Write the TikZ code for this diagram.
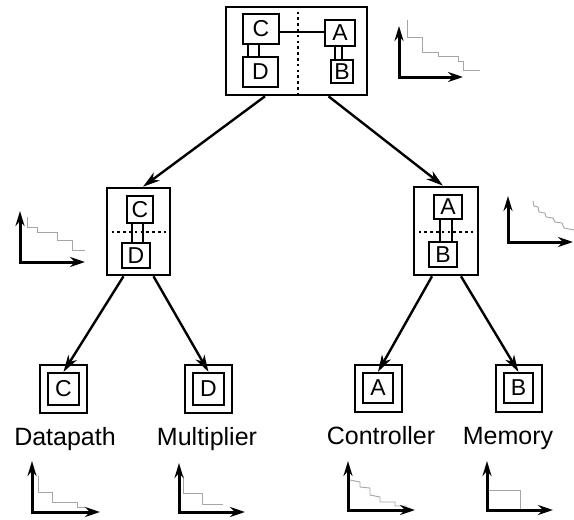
\documentclass[tikz,border=0pt]{standalone}
\usepackage{fontspec}
\setmainfont{Liberation Sans}
\usetikzlibrary{arrows.meta,calc}
\begin{document}
\begin{tikzpicture}[x=1pt,y=-1pt,
  box/.style={draw, line width=2.6pt, inner sep=0pt},
  part/.style={draw, line width=2.2pt, inner sep=0pt, font=\fontsize{23}{23}\selectfont},
  link/.style={line width=1.8pt},
  sep/.style={line width=2.6pt, dash pattern=on 2.6pt off 3.2pt},
  arr/.style={line width=2.4pt, -{Stealth[length=17pt,width=10pt,inset=5pt]}},
  axis/.style={line width=3pt, line join=miter,
    {Stealth[length=15pt,width=9pt,inset=5pt]}-{Stealth[length=15pt,width=10pt,inset=5pt]}},
  stair/.style={draw=gray!70, line width=0.9pt},
  label/.style={font=\fontsize{25}{25}\selectfont, inner sep=0pt, anchor=base}
]
\useasboundingbox (0,0) rectangle (574,520);

% ---------- root: full system ----------
\node[box, minimum width=141pt, minimum height=88pt] (top) at (296.5,51) {};
\node[part, minimum width=36pt, minimum height=30pt] (tC) at (261,29) {C};
\node[part, minimum width=35pt, minimum height=30pt] (tD) at (260.5,72) {D};
\node[part, minimum width=30pt, minimum height=26pt] (tA) at (340,33) {A};
\node[part, minimum width=22pt, minimum height=23pt] (tB) at (342,71.5) {B};
\draw[sep] ([xshift=1.5pt]top.north) -- ([xshift=1.5pt]top.south);
\draw[link] (tC.east |- 0,32) -- (tA.west |- 0,32);
\draw[link] (tC.south -| 248,0) -- (tD.north -| 248,0);
\draw[link] (tC.south -| 259,0) -- (tD.north -| 259,0);
\draw[link] (tA.south -| 335,0) -- (tB.north -| 335,0);
\draw[link] (tA.south -| 342,0) -- (tB.north -| 342,0);

% ---------- second level ----------
\node[box, minimum width=63pt, minimum height=87pt] (L) at (138.5,231.5) {};
\node[part, minimum width=26pt, minimum height=27pt] (lC) at (140,209.5) {C};
\node[part, minimum width=28pt, minimum height=25pt] (lD) at (136,255.5) {D};
\draw[link] (lC.south -| 132,0) -- (lD.north -| 132,0);
\draw[link] (lC.south -| 143,0) -- (lD.north -| 143,0);
\draw[sep] (L.west |- 0,232) -- (L.east |- 0,232);

\node[box, minimum width=64pt, minimum height=88pt] (R) at (446,231) {};
\node[part, minimum width=28pt, minimum height=24pt] (rA) at (448,207) {A};
\node[part, minimum width=28pt, minimum height=25pt] (rB) at (443,254.5) {B};
\draw[link] (rA.south -| 440,0) -- (rB.north -| 440,0);
\draw[link] (rA.south -| 452,0) -- (rB.north -| 452,0);
\draw[sep] (R.west |- 0,232) -- (R.east |- 0,232);

% ---------- leaves ----------
\node[box, minimum width=47pt, minimum height=48pt] (dp) at (63.5,389) {};
\node[part, minimum width=31pt, minimum height=32pt] (dpin) at (63.5,389) {C};
\node[box, minimum width=47pt, minimum height=48pt] (mul) at (208.5,389) {};
\node[part, minimum width=31pt, minimum height=32pt] (mulin) at (208.5,389) {D};
\node[box, minimum width=47pt, minimum height=47pt] (ctl) at (378.5,388.5) {};
\node[part, minimum width=30pt, minimum height=30pt] (ctlin) at (378,388) {A};
\node[box, minimum width=46pt, minimum height=47pt] (mem) at (519,388.5) {};
\node[part, minimum width=29pt, minimum height=30pt] (memin) at (518.5,388) {B};

\node[label] (ldp) at (65,445) {Datapath};
\node[label] (lmul) at (207,445) {Multiplier};
\node[label] (lctl) at (381,444) {Controller};
\node[label] (lmem) at (508,444) {Memory};

% ---------- decomposition arrows ----------
\draw[arr] ([xshift=-31.5pt]top.south) -- ([xshift=4.5pt]L.north);
\draw[arr] ([xshift=32pt]top.south) -- ([xshift=-3pt]R.north);
\draw[arr] ([xshift=-15pt]L.south) -- (dpin.north);
\draw[arr] ([xshift=15pt]L.south) -- (mulin.north);
\draw[arr] ([xshift=-14pt]R.south) -- (ctlin.north);
\draw[arr] ([xshift=15pt]R.south) -- (memin.north);

% ---------- trade-off curves ----------
% root
\draw[stair] (407,20) -- (407,37) -- (422,37) -- (422,52) -- (438,52) -- (438,56)
  -- (458,56) -- (458,61) -- (463,61) -- (463,70) -- (480,70);
\draw[axis] (399,26) -- (399,77) -- (463,77);
% left subsystem
\draw[stair] (27,217) -- (27,227) -- (37,227) -- (37,232) -- (57,232) -- (57,240)
  -- (72,240) -- (72,250) -- (85,250);
\draw[axis] (20,211) -- (20,262) -- (85,262);
% right subsystem
\draw[stair] (533,201) -- (534,206) -- (538,207) -- (539,212) -- (545,213) -- (546,217)
  -- (553,218) -- (555,222) -- (562,223) -- (564,228) -- (574,230);
\draw[axis] (508,196) -- (508,242) -- (573,242);
% Datapath
\draw[stair] (38,476) -- (38,492) -- (52,492) -- (52,502) -- (77,502) -- (77,507) -- (85,507);
\draw[axis] (32,461) -- (32,512) -- (100,512);
% Multiplier
\draw[stair] (183,476) -- (183,493) -- (202,493) -- (202,504) -- (223,504);
\draw[axis] (179,463) -- (179,512) -- (245,512);
% Controller
\draw[stair] (350,480) -- (360,482) -- (360,487) -- (370,488) -- (370,495) -- (380,497)
  -- (380,502) -- (395,502) -- (395,506) -- (407,506);
\draw[axis] (348,461) -- (348,510) -- (415,510);
% Memory
\draw[stair] (487,490) -- (520,490) -- (520,510);
\draw[axis] (487,461) -- (487,510) -- (553,510);
\end{tikzpicture}
\end{document}
